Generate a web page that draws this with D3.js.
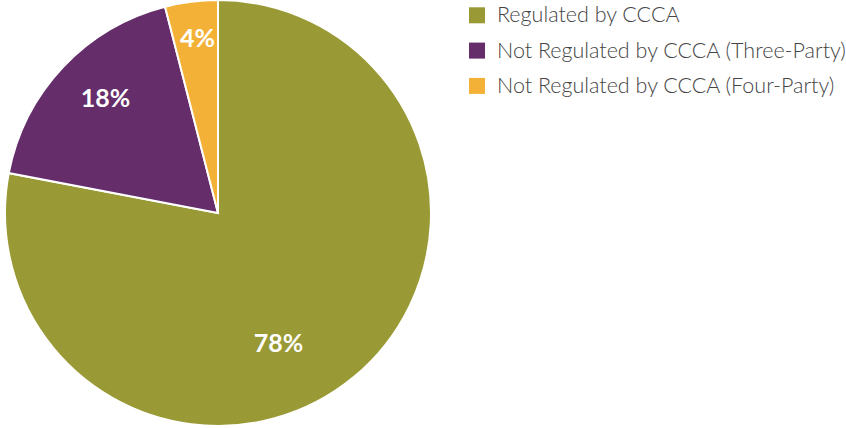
<!DOCTYPE html>
<html>
<head>
<meta charset="utf-8">
<script src="https://cdn.jsdelivr.net/npm/d3@7"></script>
<style>
  html, body { margin: 0; padding: 0; background: #fff; }
  svg { display: block; }
</style>
</head>
<body>
<svg id="chart" width="846" height="428"></svg>
<script>
// Share of arrangements by regulatory status
const categories = [
  "Regulated by CCCA",
  "Not Regulated by CCCA (Three-Party)",
  "Not Regulated by CCCA (Four-Party)"
];
const shares = [78, 18, 4];
const colors = ["#999935", "#652e6a", "#f3b237"];

const svg = d3.select("#chart");
const cx = 218, cy = 213, radius = 213;

const pie = d3.pie().sort(null).value(d => d)(shares);
const arc = d3.arc().innerRadius(0).outerRadius(radius);

const g = svg.append("g").attr("transform", `translate(${cx},${cy})`);

g.selectAll("path.slice")
  .data(pie)
  .join("path")
  .attr("class", "slice")
  .attr("d", arc)
  .attr("fill", (d, i) => colors[i])
  .attr("stroke", "#fff")
  .attr("stroke-width", 2);

// Percentage labels: placed along each slice, pulled toward the outer rim
// for the narrow slices.
const labelRadius = [0.671, 0.754, 0.827];
const labelTurn = [0.255, 0.040, 0.009];
g.selectAll("text.pct")
  .data(pie)
  .join("text")
  .attr("class", "pct")
  .attr("transform", (d, i) => {
    const a = (d.startAngle + d.endAngle) / 2 + labelTurn[i];
    const r = radius * labelRadius[i];
    return `translate(${r * Math.sin(a)},${-r * Math.cos(a)})`;
  })
  .attr("text-anchor", "middle")
  .attr("dy", "0.36em")
  .attr("fill", "#fff")
  .attr("font-family", "Lato, sans-serif")
  .attr("font-weight", 700)
  .attr("font-size", 25)
  .text(d => d.data + "%");

// Legend
const legend = svg.append("g").attr("transform", "translate(469,7.3)");
const rows = legend.selectAll("g")
  .data(categories)
  .join("g")
  .attr("transform", (d, i) => `translate(0,${i * 35.3})`);
rows.append("rect")
  .attr("width", 16).attr("height", 16)
  .attr("fill", (d, i) => colors[i]);
rows.append("text")
  .attr("x", 28).attr("y", 15)
  .attr("fill", "#444")
  .attr("font-family", "Lato, sans-serif")
  .attr("font-weight", 300)
  .attr("font-size", 21.5)
  .text(d => d);
</script>
</body>
</html>
